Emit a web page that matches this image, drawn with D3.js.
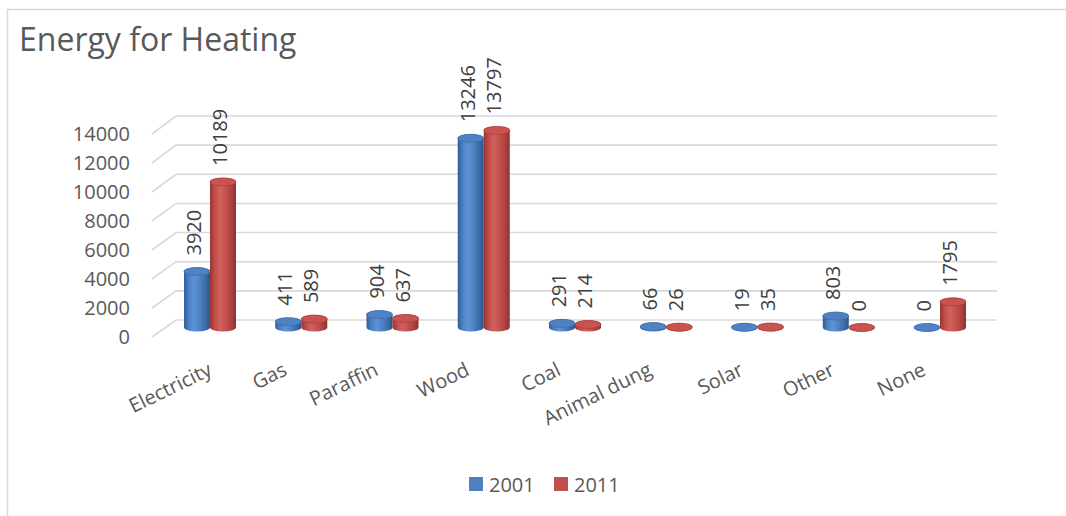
<!DOCTYPE html>
<html>
<head>
<meta charset="utf-8">
<script src="https://cdn.jsdelivr.net/npm/d3@7"></script>
<style>
  html, body { margin: 0; padding: 0; background: #fff; }
  svg { display: block; font-family: "Open Sans", "Noto Sans", sans-serif; }
</style>
</head>
<body>
<svg id="chart" width="1066" height="516"></svg>
<script>
// Energy used for heating, households counted in 2001 and 2011
const categories = ["Electricity", "Gas", "Paraffin", "Wood", "Coal", "Animal dung", "Solar", "Other", "None"];
const values2001 = [3920, 411, 904, 13246, 291, 66, 19, 803, 0];
const values2011 = [10189, 589, 637, 13797, 214, 26, 35, 0, 1795];
const seriesNames = ["2001", "2011"];
const yTicks = [0, 2000, 4000, 6000, 8000, 10000, 12000, 14000];

const svg = d3.select("#chart");
const W = 1066, H = 516;

// chart frame
svg.append("rect")
  .attr("x", 7.5).attr("y", 9.5)
  .attr("width", W + 10).attr("height", H + 10)
  .attr("fill", "#fff").attr("stroke", "#d9d9d9").attr("stroke-width", 1.5);

// title
svg.append("text")
  .attr("x", 19).attr("y", 50.5)
  .attr("font-size", 32).attr("fill", "#595959")
  .text("Energy for Heating");

// 3D box: front edge of side wall, back wall, and bar depth in between
const depthDX = 24;
const wallLeft = 152, backRight = 997;
const yFront = d3.scaleLinear().domain([0, 14000]).range([337, 134]);
const yBack = d3.scaleLinear().domain([0, 14000]).range([320, 116]);
const yBar = d3.scaleLinear().domain([0, 14000]).range([327.5, 127.5]);
const x = d3.scalePoint().domain(categories).range([210, 940]);

const grid = svg.append("g").attr("fill", "none").attr("stroke", "#d9d9d9").attr("stroke-width", 1.6);
yTicks.forEach(t => {
  grid.append("path")
    .attr("d", `M${wallLeft},${yFront(t)}L${wallLeft + depthDX},${yBack(t)}L${backRight},${yBack(t)}`);
});

// value axis labels
const yAxis = svg.append("g")
  .attr("transform", `translate(138,0)`)
  .call(d3.axisLeft(yFront).tickValues(yTicks).tickSize(0).tickPadding(8).tickFormat(d3.format("d")));
yAxis.select(".domain").remove();
yAxis.selectAll("text")
  .attr("font-family", "'Open Sans', sans-serif")
  .attr("font-size", 20).attr("fill", "#595959");

// category labels, slanted; a label that would run past the plot's left edge is nudged right
const minLabelX = 124;
const xAxis = svg.append("g");
xAxis.selectAll("text")
  .data(categories)
  .join("text")
  .attr("text-anchor", "end")
  .attr("dy", "0.35em")
  .attr("font-size", 20).attr("fill", "#595959")
  .text(d => d)
  .each(function (d) {
    const t = d3.select(this);
    let px = x(d) - 16;
    t.attr("transform", `translate(${px},368) rotate(-26)`);
    const b = this.getBoundingClientRect();
    if (b.left < minLabelX) {
      px += minLabelX - b.left;
      t.attr("transform", `translate(${px},368) rotate(-26)`);
    }
  });

// cylinder shading
const defs = svg.append("defs");
const palettes = {
  s0: { stops: ["#2f5d98", "#4a7fc2", "#5d93d6", "#4f83c4", "#3a69a6", "#2b548a"], cap: "#4f82c4", capEdge: "#3f6eab" },
  s1: { stops: ["#9a3330", "#bf4d4a", "#d2625e", "#c4524f", "#a9403d", "#8e302d"], cap: "#c9534f", capEdge: "#a8403d" }
};
Object.entries(palettes).forEach(([id, p]) => {
  const g = defs.append("linearGradient").attr("id", "grad-" + id)
    .attr("x1", "0%").attr("x2", "100%").attr("y1", "0%").attr("y2", "0%");
  const offs = [0, 0.18, 0.38, 0.6, 0.85, 1];
  p.stops.forEach((c, i) => g.append("stop").attr("offset", offs[i]).attr("stop-color", c));
});

const barW = 26, ry = 4;
const series = [values2001, values2011];
const bars = svg.append("g");
series.forEach((vals, si) => {
  const id = "s" + si;
  const p = palettes[id];
  const g = bars.append("g");
  categories.forEach((c, i) => {
    const v = vals[i];
    const x0 = si === 0 ? x(c) - barW : x(c);
    const x1 = x0 + barW;
    const rx = barW / 2;
    const cx = x0 + rx;
    const yt = yBar(v), yb = yBar(0);
    g.append("path")
      .attr("d", `M${x0},${yt}L${x0},${yb}A${rx},${ry} 0 0 0 ${x1},${yb}L${x1},${yt}A${rx},${ry} 0 0 0 ${x0},${yt}Z`)
      .attr("fill", `url(#grad-${id})`);
    g.append("ellipse")
      .attr("cx", cx).attr("cy", yt).attr("rx", rx).attr("ry", ry)
      .attr("fill", p.cap).attr("stroke", p.capEdge).attr("stroke-width", 0.8);
  });
});

// value labels above each cylinder
const labels = svg.append("g");
series.forEach((vals, si) => {
  categories.forEach((c, i) => {
    const v = vals[i];
    const cx = (si === 0 ? x(c) - barW : x(c)) + barW / 2;
    labels.append("text")
      .attr("transform", `translate(${cx - 3},${yBar(v) - 16}) rotate(-90)`)
      .attr("dy", "0.35em")
      .attr("font-size", 20).attr("fill", "#404040")
      .text(v);
  });
});

// legend
const legendColors = ["#4f81bd", "#c0504d"];
const legendX = [469, 554];
const legend = svg.append("g");
seriesNames.forEach((n, i) => {
  legend.append("rect").attr("x", legendX[i]).attr("y", 477).attr("width", 14).attr("height", 14)
    .attr("fill", legendColors[i]);
  legend.append("text").attr("x", legendX[i] + 20).attr("y", 491.5)
    .attr("font-size", 20).attr("fill", "#595959").text(n);
});
</script>
</body>
</html>
